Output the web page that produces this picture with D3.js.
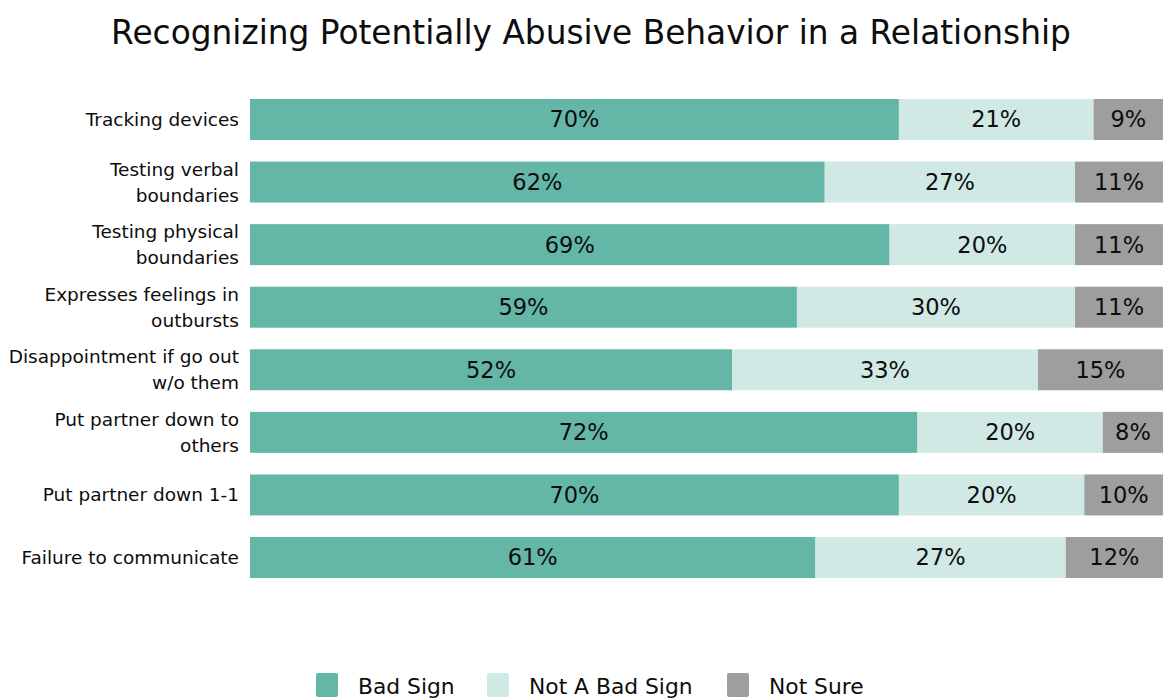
<!DOCTYPE html>
<html><head><meta charset="utf-8">
<script src="https://cdn.jsdelivr.net/npm/d3@7"></script>
<style>body{margin:0;background:#fff;overflow:hidden}svg{display:block}text{font-family:"DejaVu Sans",sans-serif;fill:#0d0d0d}</style>
</head><body><svg id="c" width="1163" height="698"></svg>
<script>
const categories = [
  ["Tracking devices"],
  ["Testing verbal", "boundaries"],
  ["Testing physical", "boundaries"],
  ["Expresses feelings in", "outbursts"],
  ["Disappointment if go out", "w/o them"],
  ["Put partner down to", "others"],
  ["Put partner down 1-1"],
  ["Failure to communicate"]
];
const seriesNames = ["Bad Sign", "Not A Bad Sign", "Not Sure"];
const badSign    = [70, 62, 69, 59, 52, 72, 70, 61];
const notBadSign = [21, 27, 20, 30, 33, 20, 20, 27];
const notSure    = [9, 11, 11, 11, 15, 8, 10, 12];
const colors = ["#64b7a7", "#d1e9e4", "#9e9e9e"];
const title = "Recognizing Potentially Abusive Behavior in a Relationship";

const svg = d3.select("#c");
const W = 1163;
const x = d3.scaleLinear().domain([0, 100]).range([250, 1177]);
const y = d3.scaleBand().domain(d3.range(categories.length)).range([99, 578]).paddingInner(0.345).paddingOuter(0);

svg.append("text").attr("x", 591).attr("y", 44).attr("text-anchor", "middle")
  .style("font-size", "32.8px").text(title);

const series = [badSign, notBadSign, notSure];
categories.forEach((cat, i) => {
  let cum = 0;
  series.forEach((s, k) => {
    const v = s[i];
    const x0 = x(cum), x1 = x(cum + v);
    svg.append("rect").attr("x", x0).attr("y", y(i)).attr("width", x1 - x0).attr("height", y.bandwidth()).attr("fill", colors[k]);
    const cx = (x0 + Math.min(x1, W)) / 2;
    svg.append("text").attr("x", cx).attr("y", y(i) + y.bandwidth() / 2).attr("dy", "0.35em")
      .attr("text-anchor", "middle").style("font-size", "22.5px").text(v + "%");
    cum += v;
  });
  const cy = y(i) + y.bandwidth() / 2;
  const t = svg.append("text").attr("x", 239).attr("text-anchor", "end").style("font-size", "18.5px");
  const lh = 26;
  cat.forEach((line, j) => {
    t.append("tspan").attr("x", 239).attr("y", cy + (j - (cat.length - 1) / 2) * lh).attr("dy", "0.35em").text(line);
  });
});

// legend
const lx = [316, 487, 727];
seriesNames.forEach((n, k) => {
  svg.append("rect").attr("x", lx[k]).attr("y", 673).attr("width", 22).attr("height", 24).attr("rx", 2).attr("fill", colors[k]);
  svg.append("text").attr("x", lx[k] + 42).attr("y", 694).style("font-size", "21.8px").text(n);
});
</script></body></html>
